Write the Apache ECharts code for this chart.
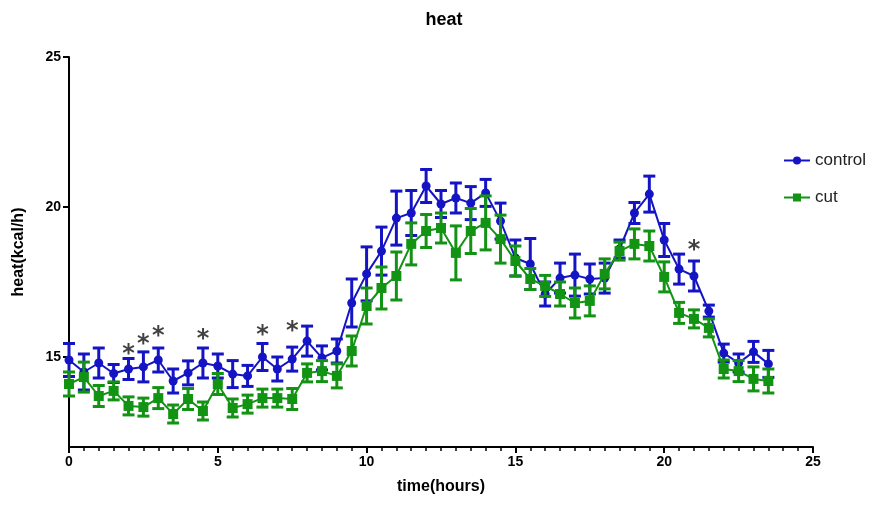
<!DOCTYPE html>
<html lang="en">
  <head>
    <meta charset="UTF-8" />
    <title>heat</title>
    <script src="https://cdn.jsdelivr.net/npm/echarts@6.0.0/dist/echarts.min.js"></script>
    <style>
      body {
        margin: 0;
        background: #fff;
      }
      #main {
        width: 888px;
        height: 506px;
      }
    </style>
  </head>
  <body>
    <div id="main"></div>
    <script type="text/javascript">
      // 时间点 (小时)，每 0.5 h 一个
      const times = [
        0, 0.5, 1, 1.5, 2, 2.5, 3, 3.5, 4, 4.5, 5, 5.5, 6, 6.5, 7, 7.5, 8, 8.5,
        9, 9.5, 10, 10.5, 11, 11.5, 12, 12.5, 13, 13.5, 14, 14.5, 15, 15.5, 16,
        16.5, 17, 17.5, 18, 18.5, 19, 19.5, 20, 20.5, 21, 21.5, 22, 22.5, 23,
        23.5,
      ]
      const controlMean = [
        14.9, 14.5, 14.8, 14.45, 14.6, 14.67, 14.9, 14.2, 14.47, 14.8, 14.7,
        14.43, 14.37, 15.0, 14.6, 14.93, 15.53, 14.97, 15.2, 16.8, 17.77, 18.53,
        19.63, 19.8, 20.7, 20.1, 20.3, 20.13, 20.47, 19.53, 18.3, 18.1, 17.1,
        17.63, 17.73, 17.6, 17.63, 18.6, 19.8, 20.43, 18.9, 17.93, 17.7, 16.53,
        15.13, 14.8, 15.17, 14.77,
      ]
      const controlErr = [
        0.55, 0.6, 0.5, 0.3, 0.35, 0.5, 0.4, 0.4, 0.4, 0.5, 0.4, 0.45, 0.35,
        0.45, 0.4, 0.4, 0.5, 0.4, 0.4, 0.8, 0.9, 0.8, 0.9, 0.75, 0.55, 0.45,
        0.5, 0.55, 0.45, 0.6, 0.6, 0.85, 0.4, 0.5, 0.7, 0.5, 0.5, 0.3, 0.35,
        0.6, 0.55, 0.5, 0.5, 0.2, 0.3, 0.3, 0.35, 0.45,
      ]
      const cutMean = [
        14.1, 14.33, 13.7, 13.87, 13.37, 13.33, 13.63, 13.1, 13.6, 13.2, 14.1,
        13.3, 13.43, 13.63, 13.63, 13.6, 14.47, 14.53, 14.37, 15.2, 16.7, 17.3,
        17.7, 18.77, 19.2, 19.3, 18.47, 19.2, 19.47, 18.93, 18.2, 17.6, 17.37,
        17.1, 16.8, 16.87, 17.77, 18.53, 18.77, 18.7, 17.67, 16.47, 16.27,
        15.97, 14.6, 14.53, 14.27, 14.2,
      ]
      const cutErr = [
        0.4, 0.5, 0.35, 0.3, 0.3, 0.3, 0.35, 0.3, 0.35, 0.3, 0.35, 0.3, 0.3,
        0.3, 0.3, 0.35, 0.3, 0.35, 0.4, 0.5, 0.6, 0.7, 0.8, 0.7, 0.55, 0.5, 0.9,
        0.75, 0.9, 0.8, 0.5, 0.35, 0.35, 0.4, 0.5, 0.5, 0.5, 0.3, 0.5, 0.5, 0.5,
        0.35, 0.3, 0.3, 0.3, 0.35, 0.4, 0.4,
      ]
      // 显著性星号
      const starTimes = [2, 2.5, 3, 4.5, 6.5, 7.5, 21]
      const starY = [15.27, 15.6, 15.87, 15.77, 15.9, 16.03, 18.73]

      const yTicks = [15, 20, 25]
      const blue = "#1414c4"
      const green = "#139313"
      const font = "Liberation Sans, Arial, sans-serif"

      function pairs(ys) {
        return times.map((t, i) => [t, ys[i]])
      }
      function errData(mean, err) {
        return times.map((t, i) => [t, mean[i] - err[i], mean[i] + err[i]])
      }

      function errorBar(color) {
        return function (params, api) {
          const x = api.value(0)
          const lo = api.coord([x, api.value(1)])
          const hi = api.coord([x, api.value(2)])
          const w = 6
          const style = { stroke: color, lineWidth: 3 }
          return {
            type: "group",
            children: [
              { type: "line", shape: { x1: lo[0], y1: lo[1], x2: hi[0], y2: hi[1] }, style },
              { type: "line", shape: { x1: hi[0] - w, y1: hi[1], x2: hi[0] + w, y2: hi[1] }, style },
              { type: "line", shape: { x1: lo[0] - w, y1: lo[1], x2: lo[0] + w, y2: lo[1] }, style },
            ],
          }
        }
      }

      var chart = echarts.init(document.getElementById("main"))
      chart.setOption({
        animation: false,
        backgroundColor: "#fff",
        title: {
          text: "heat",
          left: "center",
          top: 6,
          textStyle: { fontFamily: font, fontSize: 18, fontWeight: "bold", color: "#000" },
        },
        legend: {
          orient: "vertical",
          left: 778,
          top: 147,
          itemGap: 20,
          itemWidth: 26,
          itemHeight: 10,
          data: ["control", "cut"],
          textStyle: { fontFamily: font, fontSize: 17, color: "#222" },
        },
        grid: { left: 69, right: 75, top: 57, bottom: 59 },
        xAxis: {
          type: "value",
          min: 0,
          max: 25,
          interval: 5,
          name: "time(hours)",
          nameLocation: "middle",
          nameGap: 32,
          nameTextStyle: { fontFamily: font, fontSize: 16, fontWeight: "bold", color: "#000" },
          axisLine: { lineStyle: { color: "#000", width: 2 } },
          axisTick: { length: 6, lineStyle: { color: "#000", width: 2 } },
          minorTick: { show: true, splitNumber: 10, length: 4, lineStyle: { color: "#000", width: 1.5 } },
          splitLine: { show: false },
          axisLabel: { fontFamily: font, fontSize: 14, fontWeight: "bold", color: "#000", margin: 8 },
        },
        yAxis: {
          type: "value",
          min: 12,
          max: 25,
          name: "heat(kcal/h)",
          nameLocation: "middle",
          nameGap: 42,
          nameTextStyle: { fontFamily: font, fontSize: 16, fontWeight: "bold", color: "#000" },
          axisLine: { show: true, lineStyle: { color: "#000", width: 2 } },
          axisTick: { show: true, length: 6, customValues: yTicks, lineStyle: { color: "#000", width: 2 } },
          splitLine: { show: false },
          axisLabel: { fontFamily: font, fontSize: 14, fontWeight: "bold", color: "#000", customValues: yTicks },
        },
        series: [
          {
            name: "control-err",
            type: "custom",
            renderItem: errorBar(blue),
            encode: { x: 0, y: [1, 2] },
            data: errData(controlMean, controlErr),
            z: 2,
          },
          {
            name: "control",
            type: "line",
            data: pairs(controlMean),
            symbol: "circle",
            symbolSize: 9,
            itemStyle: { color: blue },
            lineStyle: { color: blue, width: 2 },
            z: 3,
          },
          {
            name: "cut-err",
            type: "custom",
            renderItem: errorBar(green),
            encode: { x: 0, y: [1, 2] },
            data: errData(cutMean, cutErr),
            z: 4,
          },
          {
            name: "cut",
            type: "line",
            data: pairs(cutMean),
            symbol: "rect",
            symbolSize: 10,
            itemStyle: { color: green },
            lineStyle: { color: green, width: 2 },
            z: 5,
          },
          {
            name: "stars",
            type: "scatter",
            data: starTimes.map((t, i) => [t, starY[i]]),
            symbolSize: 4,
            itemStyle: { color: "rgba(0,0,0,0)" },
            label: {
              show: true,
              position: "inside",
              formatter: "*",
              fontFamily: "DejaVu Sans, sans-serif",
              fontSize: 24,
              fontWeight: "bold",
              color: "#111",
              offset: [0, 6],
            },
            z: 6,
          },
        ],
      })
    </script>
  </body>
</html>
